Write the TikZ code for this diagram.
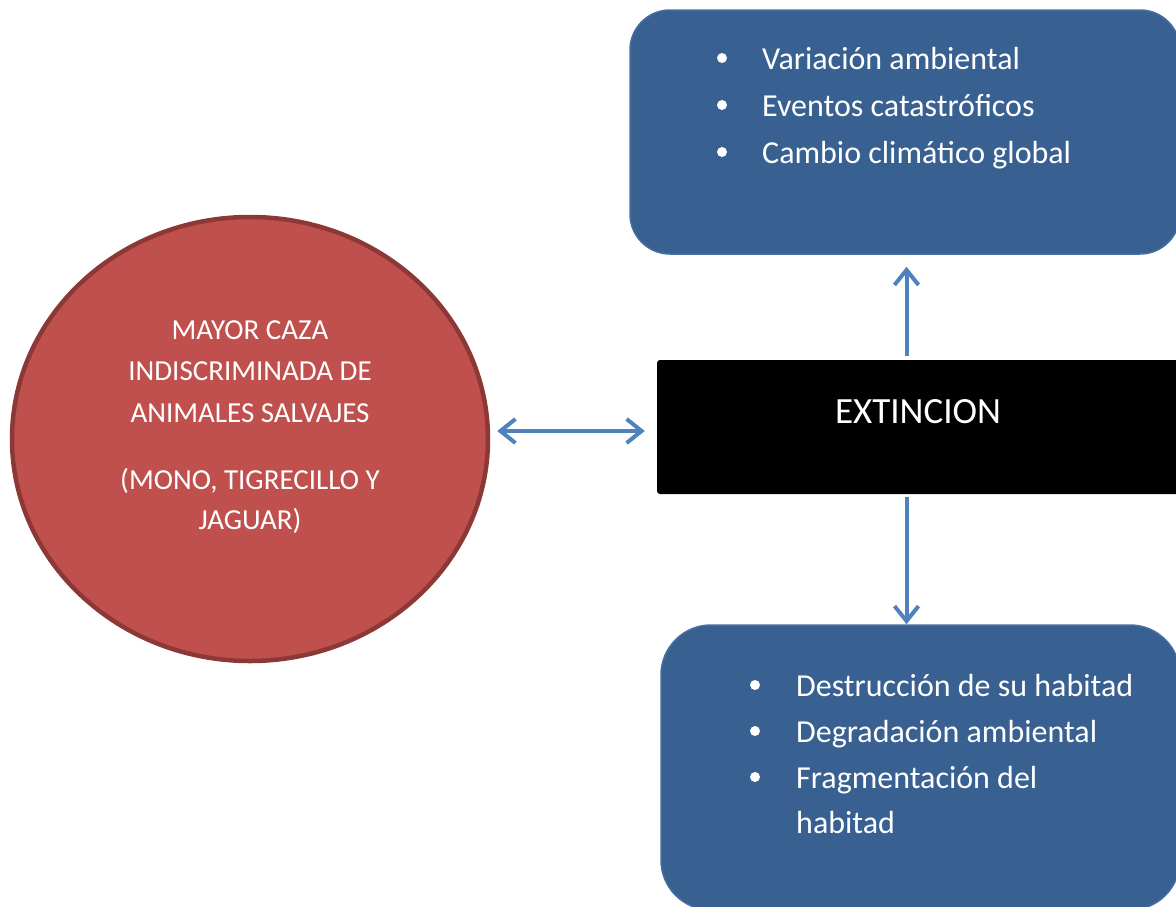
\documentclass[tikz,border=0pt]{standalone}
\usepackage{fontspec}
\setmainfont{Carlito}
\usetikzlibrary{arrows.meta,shapes.geometric}
\definecolor{boxblue}{RGB}{56,97,146}
\definecolor{boxedge}{RGB}{70,110,160}
\definecolor{cazared}{RGB}{192,80,77}
\definecolor{cazaedge}{RGB}{140,56,54}
\definecolor{linkblue}{RGB}{79,129,189}
\tikzset{
    causebox/.style={draw=boxedge, line width=1.5pt, fill=boxblue, inner sep=0pt},
    bul/.style={circle, fill=white, inner sep=0pt, minimum size=10pt},
    itemtxt/.style={anchor=base west, inner sep=0pt, text=white, font=\fontsize{32}{38}\selectfont},
    cazatxt/.style={inner sep=0pt, text=white, font=\fontsize{29}{34}\selectfont},
    barb/.tip={Straight Barb[length=15pt, width=24pt, line width=4pt]},
    link/.style={draw=linkblue, line width=4pt, arrows={-barb}}
}
\begin{document}
\begin{tikzpicture}[x=1pt, y=-1pt]
    \clip (0,0) rectangle (1176,906);
    \useasboundingbox (0,0) rectangle (1176,906);

    % circulo de la caza
    \node[ellipse, fill=cazared, draw=cazaedge, line width=4.5pt, inner sep=0pt,
          minimum width=476pt, minimum height=444pt] (caza) at (250,439) {};
    \foreach \i/\y/\t in {1/330/MAYOR CAZA, 2/371/INDISCRIMINADA DE, 3/413/ANIMALES SALVAJES,
                          4/481/{(MONO, TIGRECILLO Y}, 5/521/JAGUAR)} {
        \node[cazatxt] (cz\i) at (250,\y) {\t};
    }

    % extincion
    \node[fill=black, rounded corners=3pt, minimum width=523pt, minimum height=134pt, inner sep=0pt] (ext) at (918.5,427) {};
    \node[inner sep=0pt, text=white, font=\fontsize{37}{44}\selectfont] (extt) at (918,412) {EXTINCION};

    % causas
    \node[causebox, rounded corners=40pt, minimum width=550pt, minimum height=244pt] (top) at (905,132) {};
    \foreach \i/\y/\t in {1/58/Variación ambiental, 2/105/Eventos catastróficos, 3/152/Cambio climático global} {
        \node[bul] (tb\i) at (722,\y) {};
        \node[itemtxt] (tt\i) at (762,\y+11) {\t};
    }

    \node[causebox, rounded corners=50pt, minimum width=519pt, minimum height=285pt] (bot) at (920.5,767.5) {};
    \foreach \i/\y/\t in {1/685/Destrucción de su habitad, 2/731/Degradación ambiental, 3/777/Fragmentación del} {
        \node[bul] (bb\i) at (755,\y) {};
        \node[itemtxt] (bt\i) at (796,\y+11) {\t};
    }
    \node[itemtxt] (bt4) at (796,833) {habitad};

    % flechas
    \draw[link, arrows={barb-barb}, shorten <=7pt, shorten >=12pt] ([yshift=8pt]caza.east) -- ([yshift=-4pt]ext.west);
    \draw[link, shorten <=4pt, shorten >=12pt] ([xshift=-12pt]ext.north) -- ([xshift=-12pt]ext.north |- top.south);
    \draw[link, shorten <=3pt] ([xshift=-12pt]ext.south) -- ([xshift=-12pt]ext.south |- bot.north);
\end{tikzpicture}
\end{document}
